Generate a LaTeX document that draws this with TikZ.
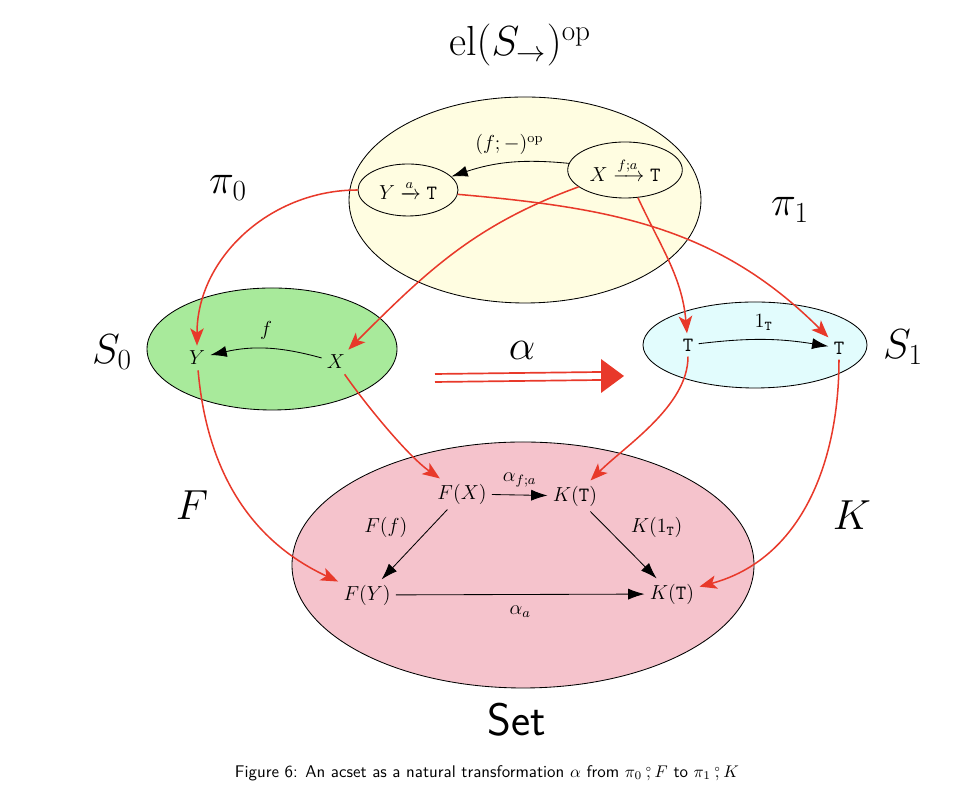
\documentclass[tikz,border=0pt]{standalone}
\usepackage{amsmath}
\usepackage{amssymb}
\usepackage{xcolor}
\usepackage{tikz}
\usetikzlibrary{arrows.meta, positioning, shapes.geometric}
\definecolor{elYellow}{RGB}{255,253,225}
\definecolor{sZeroGreen}{RGB}{168,234,155}
\definecolor{sOneCyan}{RGB}{226,252,253}
\definecolor{setPink}{RGB}{245,195,204}
\definecolor{natRed}{RGB}{232,57,42}
\def\px{0.020812cm}
\newcommand{\fcmp}{\mathbin{\text{\makebox[3pt]{\raisebox{0.8ex}{$\scriptscriptstyle\circ$}}\hspace{-3pt}\makebox[3pt]{$,$}}}}

\begin{document}
\begin{tikzpicture}[
    x=\px, y=\px,
    >={Latex[length=3.4mm,width=2.3mm]},
    region/.style={ellipse, draw, line width=0.5pt, inner sep=0pt},
    obj/.style={font=\large, inner sep=3pt},
    lbl/.style={font=\large},
    big/.style={font=\fontsize{27}{30}\selectfont},
    redarr/.style={draw=natRed, line width=0.9pt, -{Stealth[length=3.6mm,width=2.8mm,inset=0.9mm]}},
    blk/.style={->, line width=0.5pt}
]
\useasboundingbox (0,0) rectangle (961,797);

% the three categories and Set
\node[region, fill=elYellow, minimum width=352*\px, minimum height=206*\px] (el) at (525,597) {};
\node[region, fill=sZeroGreen, minimum width=250*\px, minimum height=122*\px] (szero) at (272,448) {};
\node[region, fill=sOneCyan, minimum width=224*\px, minimum height=86*\px] (sone) at (755,452) {};
\node[region, fill=setPink, minimum width=462*\px, minimum height=246*\px] (setr) at (523,232) {};

\node[big] (elname) at (520,752) {$\mathrm{el}(S_{\to})^{\mathrm{op}}$};
\node[big] (szname) at (112,445) {$S_0$};
\node[big] (soname) at (903,450) {$S_1$};
\node[big] (setname) at (517,77) {\textsf{Set}};
\node[big] (pizero) at (228,609) {$\pi_0$};
\node[big] (pione) at (790,587) {$\pi_1$};
\node[big] (fname) at (192,292) {$F$};
\node[big] (kname) at (852,282) {$K$};
\node[big] (alpha) at (522,447) {$\alpha$};

% objects
\node[region, obj, minimum width=100*\px, minimum height=52*\px] (yt) at (408,607) {$Y \xrightarrow{a} \mathtt{T}$};
\node[region, obj, minimum width=102*\px, minimum height=56*\px] (xt) at (625,627) {$X \xrightarrow{f;a} \mathtt{T}$};
\node[obj] (Y) at (197,439) {$Y$};
\node[obj] (X) at (336,435) {$X$};
\node[obj] (T1) at (688,452) {$\mathtt{T}$};
\node[obj] (T2) at (839,449) {$\mathtt{T}$};
\node[obj] (FX) at (462,303) {$F(X)$};
\node[obj] (KT1) at (575,301) {$K(\mathtt{T})$};
\node[obj] (FY) at (367,202) {$F(Y)$};
\node[obj] (KT2) at (672,203) {$K(\mathtt{T})$};

% morphisms
\draw[blk] (xt) to[bend right=12] node[lbl, above=1pt] {$(f;-)^{\mathrm{op}}$} (yt);
\draw[blk] (X) to[bend right=14] node[lbl, above=2pt] {$f$} (Y);
\draw[blk] (T1) to[bend left=8] node[lbl, above=2pt] {$1_{\mathtt{T}}$} (T2);
\draw[blk] (FX) -- node[lbl, above=1pt] {$\alpha_{f;a}$} (KT1);
\draw[blk] (FX) -- node[lbl, above left=1pt] {$F(f)$} (FY);
\draw[blk] (KT1) -- node[lbl, above right=1pt] {$K(1_{\mathtt{T}})$} (KT2);
\draw[blk] (FY) -- node[lbl, below=3pt] {$\alpha_a$} (KT2);

% functors
\draw[redarr] (yt) to[out=180,in=90] (Y);
\draw[redarr] (xt) to[out=200,in=45] (X);
\draw[redarr] (yt) to[out=-5,in=135] (T2);
\draw[redarr] (xt) to[out=-65,in=95] (T1);
\draw[redarr] (Y) to[out=-85,in=155] (FY);
\draw[redarr] (X) to[out=-55,in=145,looseness=0.7] (FX);
\draw[redarr] (T1) to[out=-90,in=45,looseness=0.8] (KT1);
\draw[redarr] (T2) to[out=-90,in=15] (KT2);

% natural transformation
\coordinate (a1) at (435,419);
\coordinate (a2) at (601,421);
\coordinate (atip) at (624,421);
\draw[natRed, line width=1pt] ([yshift=4*\px]a1) -- ([yshift=4*\px]a2);
\draw[natRed, line width=1pt] ([yshift=-4*\px]a1) -- ([yshift=-4*\px]a2);
\fill[natRed] ([yshift=17*\px]a2) -- (atip) -- ([yshift=-17*\px]a2) -- cycle;

\node[font=\sffamily] (caption) at (487,24) {Figure 6: An acset as a natural transformation $\alpha$ from $\pi_0 \fcmp F$ to $\pi_1 \fcmp K$};
\end{tikzpicture}
\end{document}
